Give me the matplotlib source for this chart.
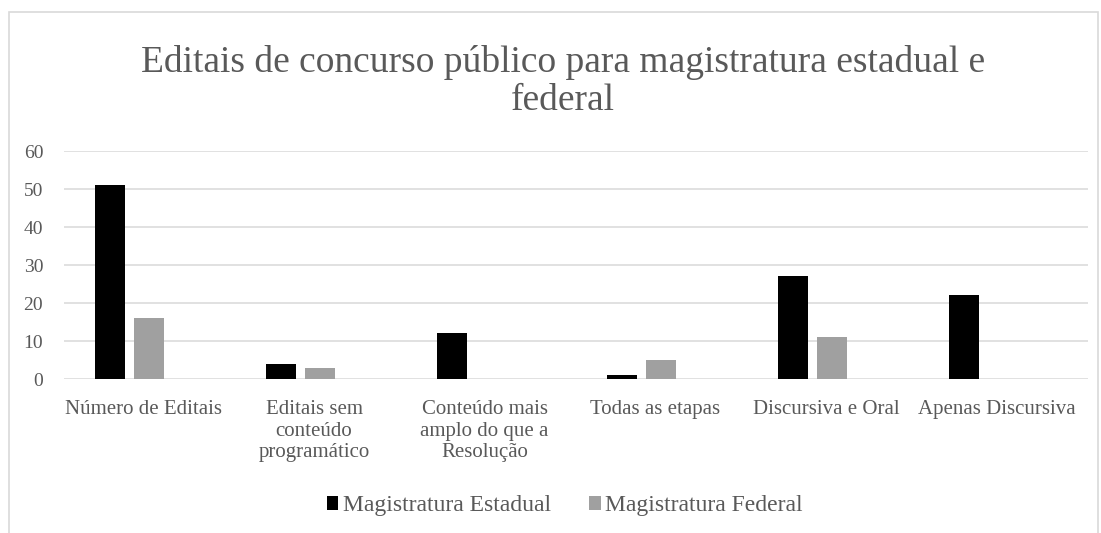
import matplotlib
matplotlib.use("Agg")
import matplotlib.pyplot as plt
import matplotlib.transforms as mtransforms
from matplotlib.patches import Rectangle
import numpy as np

categories = [
    "Número de Editais",
    "Editais sem\nconteúdo\nprogramático",
    "Conteúdo mais\namplo do que a\nResolução",
    "Todas as etapas",
    "Discursiva e Oral",
    "Apenas Discursiva",
]
estadual = [51, 4, 12, 1, 27, 22]
federal = [16, 3, 0, 5, 11, 0]
series_names = ["Magistratura Estadual", "Magistratura Federal"]
yticks = [0, 10, 20, 30, 40, 50, 60]

TEXT = "#595959"
GRID = "#d9d9d9"
plt.rcParams["font.family"] = ["Liberation Serif", "DejaVu Serif"]

fig = plt.figure(figsize=(11.01, 5.33), dpi=100)
# light frame around the chart area
fig.patches.append(Rectangle((9 / 1101, -0.05), (1098 - 9) / 1101, 1.05 - 12 / 533,
                             transform=fig.transFigure, facecolor="none",
                             edgecolor=GRID, linewidth=1.2, zorder=-1))

ax = fig.add_axes([64 / 1101, 1 - 379 / 533, (1088 - 64) / 1101, 228 / 533])
ax.set_facecolor("none")

x = np.arange(len(categories))
w = 0.176
step = w + 0.053
ax.bar(x - step, estadual, width=w, color="black", label=series_names[0], zorder=3)
ax.bar(x, federal, width=w, color="#a0a0a0", label=series_names[1], zorder=3)

ax.set_xlim(-0.5, len(categories) - 0.5)
ax.set_ylim(0, 60)
ax.set_yticks(yticks)
ax.yaxis.grid(True, color=GRID, linewidth=1.1, zorder=0)
ax.set_axisbelow(True)
for s in ax.spines.values():
    s.set_visible(False)
ax.tick_params(axis="both", length=0, colors=TEXT)
ax.tick_params(axis="y", pad=15, labelsize=14)
ax.tick_params(axis="x", pad=15, labelsize=15)
ax.set_xticks(x)
ax.set_xticklabels(categories, linespacing=1.2)
shift = mtransforms.ScaledTranslation(-6 / 100, 0, fig.dpi_scale_trans)
for t in ax.get_xticklabels():
    t.set_color(TEXT)
    t.set_transform(t.get_transform() + shift)
for t in ax.get_yticklabels():
    t.set_color(TEXT)

fig.text(0.511, 1 - 62 / 533, "Editais de concurso público para magistratura estadual e",
         ha="center", va="center", fontsize=27, color=TEXT)
fig.text(0.511, 1 - 101 / 533, "federal", ha="center", va="center", fontsize=27, color=TEXT)

leg = fig.legend(loc="center", bbox_to_anchor=(0.513, 1 - 506 / 533), ncol=2,
                 frameon=False, fontsize=17, handlelength=0.5, handleheight=0.5,
                 handletextpad=0.2, columnspacing=1.6)
for t in leg.get_texts():
    t.set_color(TEXT)

fig.savefig("out.png", dpi=100, facecolor="white")
